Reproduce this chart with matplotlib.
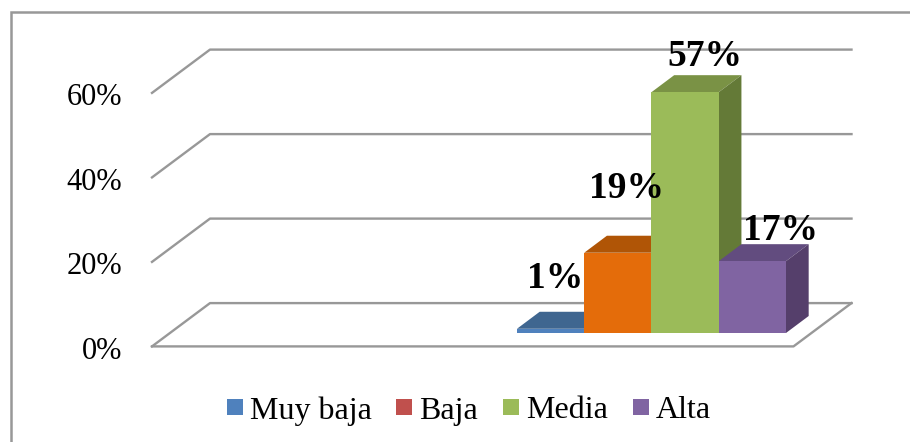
import matplotlib
matplotlib.use("Agg")
import matplotlib.pyplot as plt
from matplotlib.patches import Polygon, Rectangle

plt.rcParams["font.family"] = ["Liberation Serif", "DejaVu Serif"]

# ── Data ──────────────────────────────────────────────────────────────────────
categories = ["Muy baja", "Baja", "Media", "Alta"]
values = [1, 19, 57, 17]
value_labels = ["1%", "19%", "57%", "17%"]
grid_ticks = [0, 20, 40, 60]
tick_labels = ["0%", "20%", "40%", "60%"]

# ── Colours ───────────────────────────────────────────────────────────────────
front_cols = ["#4F81BD", "#E46C0A", "#9BBB59", "#8064A2"]
top_cols = ["#3F6690", "#B05506", "#7A9245", "#624C7F"]
side_cols = ["#3A5F87", "#9A4A05", "#647A37", "#553F6B"]
legend_cols = ["#4F81BD", "#C0504D", "#9BBB59", "#8064A2"]
GRID = "#989898"

# ── Scales: one figure pixel = 1/PX_X category = 1/PX_Y percent ───────────────
W, H = 910, 442
PX_X, PX_Y = 67.25, 4.225
X0, Y0 = 550.6, 333.0   # pixel position of category 0 centre / bar baseline
DEPTH_X, DEPTH_Y = 22.7 / PX_X, 17.0 / PX_Y   # bar depth
WALL_X, WALL_Y = 58.0 / PX_X, 43.3 / PX_Y     # floor depth
FRONT_Y = -13.4 / PX_Y   # front floor edge relative to bar baseline


def xd(px):
    return (px - X0) / PX_X


def yd(py):
    return (Y0 - py) / PX_Y


fig = plt.figure(figsize=(W / 100, H / 100), dpi=100)
ax = fig.add_axes([0, 0, 1, 1])
ax.set_xlim(xd(0), xd(W))
ax.set_ylim(yd(H), yd(0))
ax.axis("off")

# chart frame, only top and left are visible in the crop
ax.plot([xd(10.5), xd(10.5), xd(W)], [yd(H), yd(12), yd(12)],
        color=GRID, lw=1.8, solid_joinstyle="miter", zorder=1)

# gridlines
left, right = xd(152), xd(851.5)
for t in grid_ticks:
    y_front = FRONT_Y + t
    ax.plot([left, left + WALL_X, right], [y_front, y_front + WALL_Y, y_front + WALL_Y],
            color=GRID, lw=1.7, zorder=1)

# floor
ax.plot([left, right - WALL_X, right], [FRONT_Y, FRONT_Y, FRONT_Y + WALL_Y],
        color=GRID, lw=1.7, zorder=1)

# 3D bars, drawn left to right so the later ones cover the earlier sides
for i, v in enumerate(values):
    a, b = i - 0.5, i + 0.5
    z = 2 + i
    ax.bar(i, v, width=1, color=front_cols[i], linewidth=0, zorder=z + 0.2)
    ax.add_patch(Polygon([(a, v), (b, v), (b + DEPTH_X, v + DEPTH_Y), (a + DEPTH_X, v + DEPTH_Y)],
                         closed=True, fc=top_cols[i], ec="none", zorder=z))
    ax.add_patch(Polygon([(b, 0), (b + DEPTH_X, DEPTH_Y), (b + DEPTH_X, v + DEPTH_Y), (b, v)],
                         closed=True, fc=side_cols[i], ec="none", zorder=z))

# value labels
label_px = [(555, 278), (627, 188), (705, 57), (781, 230)]
for lab, (px, py) in zip(value_labels, label_px):
    ax.text(xd(px), yd(py), lab, ha="center", va="center", fontsize=27,
            fontweight="bold", color="black", zorder=10)

# axis labels
for t, lab in zip(grid_ticks, tick_labels):
    ax.text(xd(122), FRONT_Y + t - 5 / PX_Y, lab, ha="right", va="center", fontsize=22,
            color="black", zorder=10)

# legend
legend_sw = [227, 396, 503, 633]
legend_tx = [250, 419, 526, 656]
for name, col, sx, tx in zip(categories, legend_cols, legend_sw, legend_tx):
    ax.add_patch(Rectangle((xd(sx), yd(415)), 16 / PX_X, 16 / PX_Y, fc=col, ec="none", zorder=10))
    ax.text(xd(tx), yd(411), name, ha="left", va="center", fontsize=23,
            color="black", zorder=10)

fig.savefig("out.png", dpi=100, facecolor="white")
